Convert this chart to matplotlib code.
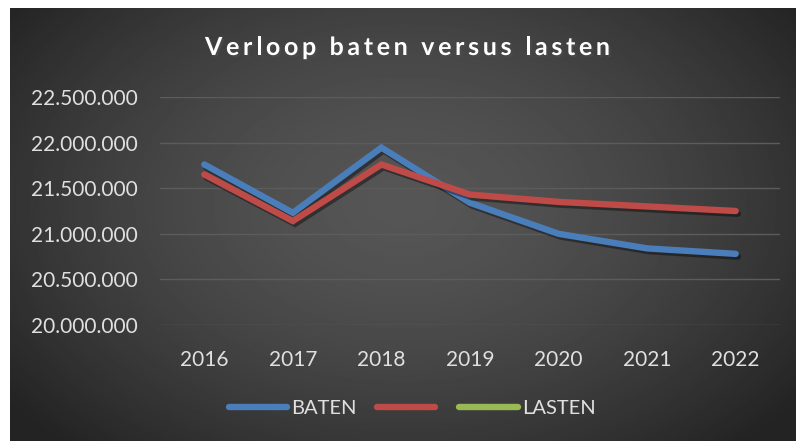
import numpy as np
import matplotlib
matplotlib.use("Agg")
import matplotlib.pyplot as plt
import matplotlib.patheffects as pe
from matplotlib.lines import Line2D
from matplotlib.ticker import FuncFormatter

title = "Verloop baten versus lasten"
years = ["2016", "2017", "2018", "2019", "2020", "2021", "2022"]
baten = [21760000, 21230000, 21945000, 21340000, 21000000, 20840000, 20780000]
rood = [21650000, 21140000, 21760000, 21430000, 21350000, 21300000, 21250000]
lasten = []  # serie zonder waarden, alleen in legenda

blue = "#4a7ebb"
red = "#be4b48"
green = "#98b954"
txt = "#e0e0e0"

plt.rcParams["font.family"] = ["Lato", "DejaVu Sans"]

W, H = 796, 441
fig = plt.figure(figsize=(W / 100, H / 100), dpi=100)
fig.patch.set_facecolor("white")

# radial gradient background (white strip top/left like the screenshot)
bg = fig.add_axes([10 / W, 0, 1 - 10 / W, 1 - 8 / H])
yy, xx = np.mgrid[0:1:300j, 0:1:500j]
r = np.sqrt(((xx - 0.5) / 0.62) ** 2 + ((yy - 0.45) / 0.75) ** 2)
val = np.clip(0.335 - 0.19 * r ** 1.6, 0.14, 0.35)
bg.imshow(val, cmap="gray", vmin=0, vmax=1, aspect="auto", extent=[0, 1, 0, 1])
bg.set_axis_off()

ax = fig.add_axes([160 / W, 1 - 325 / H, 620 / W, 228 / H])
ax.set_facecolor("none")
x = np.arange(len(years))
shadow = [pe.SimpleLineShadow(offset=(1.5, -2), shadow_color="black", alpha=0.4), pe.Normal()]
ax.plot(x, baten, color=blue, lw=4.6, solid_capstyle="round", solid_joinstyle="miter",
        path_effects=shadow, zorder=3)
ax.plot(x, rood, color=red, lw=4.6, solid_capstyle="round", solid_joinstyle="miter",
        path_effects=shadow, zorder=3)
ax.plot(np.arange(len(lasten)), lasten, color=green, lw=4.6)

ax.set_xlim(-0.5, len(years) - 0.5)
ax.set_ylim(20000000, 22500000)
ax.set_yticks(np.arange(20000000, 22500001, 500000))
ax.yaxis.set_major_formatter(FuncFormatter(lambda v, p: f"{v:,.0f}".replace(",", ".")))
ax.set_xticks(x)
ax.set_xticklabels(years)
ax.grid(axis="y", color="#5c5c5c", lw=1)
ax.set_axisbelow(True)
for s in ax.spines.values():
    s.set_visible(False)
ax.tick_params(length=0, colors=txt, labelsize=15)
ax.tick_params(axis="y", pad=16)
ax.tick_params(axis="x", pad=18)

# title with letter spacing: place characters one by one
renderer = fig.canvas.get_renderer()
tkw = dict(color="white", fontsize=18, fontweight="bold", va="baseline", ha="left",
           path_effects=[pe.withSimplePatchShadow(offset=(1.5, -1.5), alpha=0.6)])


def char_w(c):
    if c == " ":
        a = fig.text(0, 0, "a a", **tkw)
        b = fig.text(0, 0, "aa", **tkw)
        w = a.get_window_extent(renderer).width - b.get_window_extent(renderer).width
        a.remove()
        b.remove()
        return w
    t = fig.text(0, 0, c, **tkw)
    w = t.get_window_extent(renderer).width
    t.remove()
    return w


widths = [char_w(c) for c in title]
x0, x1 = 205, 610
track = (x1 - x0 - sum(widths)) / (len(title) - 1)
xp = x0
for c, w in zip(title, widths):
    if c != " ":
        fig.text(xp / W, 1 - 55 / H, c, **tkw)
    xp += w + track

handles = [Line2D([], [], color=blue, lw=4.6, solid_capstyle="round"),
           Line2D([], [], color=red, lw=4.6, solid_capstyle="round"),
           Line2D([], [], color=green, lw=4.6, solid_capstyle="round")]
leg = fig.legend(handles, ["BATEN", "", "LASTEN"], loc="center", bbox_to_anchor=(412 / W, 1 - 408 / H),
                 ncol=3, frameon=False, fontsize=14.5, handlelength=2.9, handletextpad=0.2,
                 columnspacing=1.0, labelcolor=txt)

fig.savefig("out.png", dpi=100)
